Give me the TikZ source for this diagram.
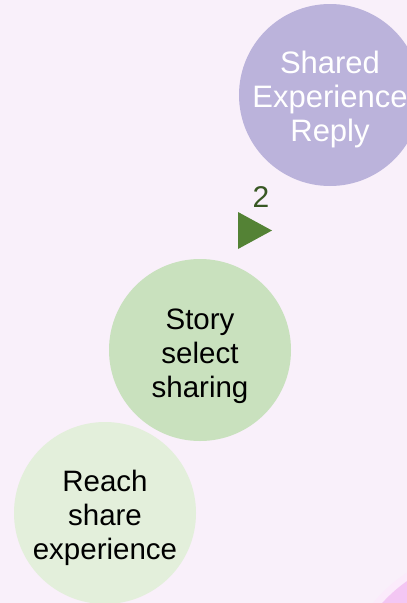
\documentclass[tikz,border=0pt]{standalone}
\usepackage{fontspec}
\setmainfont{Liberation Sans}
\usetikzlibrary{shapes.geometric, positioning}
\definecolor{bgpink}{HTML}{F9F0FA}
\definecolor{cornerpink}{HTML}{F3C6F3}
\definecolor{replyfill}{HTML}{BBB3DB}
\definecolor{storyfill}{HTML}{C9E1BE}
\definecolor{reachfill}{HTML}{E3EFDB}
\definecolor{stepgreen}{HTML}{548235}
\definecolor{countgreen}{HTML}{385723}
\tikzset{
  bubble/.style={circle, minimum size=182pt, inner sep=0pt},
  bubbletext/.style={align=center, inner sep=0pt, font=\fontsize{29.5}{34}\selectfont},
  marker/.style={isosceles triangle, isosceles triangle stretches, minimum width=37pt, minimum height=34pt, inner sep=0pt, fill=stepgreen},
  count/.style={text=countgreen, inner sep=0pt, font=\fontsize{30}{32}\selectfont}
}

\begin{document}
\begin{tikzpicture}[x=1pt, y=-1pt]
    % background
    \fill[bgpink] (0,0) rectangle (407,603);
    \useasboundingbox (0,0) rectangle (407,603);
    \begin{scope}
      \clip (0,0) rectangle (407,603);
      \fill[cornerpink!35] (490,700) circle (152);
      \fill[cornerpink] (490,700) circle (145);
    \end{scope}

    % circles
    \node (reply) [bubble, fill=replyfill] at (330,95) {};
    \node (story) [bubble, fill=storyfill] at (200,350) {};
    \node (reach) [bubble, fill=reachfill] at (105,513) {};

    % texts
    \node (replytext) [bubbletext, text=white, font=\fontsize{31}{34}\selectfont] at ([yshift=-4pt]reply.center) {Shared\\ Experience\\ Reply};
    \node (storytext) [bubbletext] at ([yshift=-6pt]story.center) {Story\\ select\\ sharing};
    \node (reachtext) [bubbletext] at ([yshift=-5pt]reach.center) {Reach\\ share\\ experience};

    \node (tri) [marker] at (249,230.5) {};
    \node (num) [count, above=10pt of tri, xshift=12pt] {2};

\end{tikzpicture}
\end{document}
